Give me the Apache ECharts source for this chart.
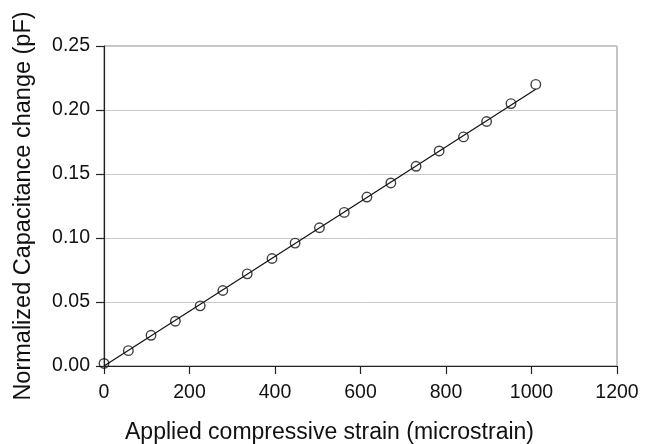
<!DOCTYPE html>
<html>
<head>
<meta charset="utf-8">
<script src="https://cdn.jsdelivr.net/npm/echarts@6/dist/echarts.min.js"></script>
<style>
html,body{margin:0;padding:0;background:#fff;}
#chart{width:653px;height:444px;}
</style>
</head>
<body>
<div id="chart"></div>
<script>
// Measured points: applied strain (microstrain) and normalized capacitance change (pF)
const strain = [0, 57, 110, 167, 225, 278, 335, 393, 447, 504, 562, 615, 671, 730, 784, 841, 895, 952, 1010];
const capChange = [0.002, 0.012, 0.024, 0.035, 0.047, 0.059, 0.072, 0.084, 0.096, 0.108, 0.120, 0.132, 0.143, 0.156, 0.168, 0.179, 0.191, 0.205, 0.220];
// Linear fit line end points
const fitX = [0, 1010];
const fitY = [0, 0.2162];
const xTicks = [0, 200, 400, 600, 800, 1000, 1200];
const yTicks = [0, 0.05, 0.10, 0.15, 0.20, 0.25];

const font = 'Liberation Sans, Arial, sans-serif';
const chart = echarts.init(document.getElementById('chart'), null, {renderer: 'canvas'});
chart.setOption({
  animation: false,
  backgroundColor: '#ffffff',
  grid: {left: 104, right: 36, top: 46, bottom: 78, outerBoundsMode: 'none', containLabel: false,
         show: true, borderColor: '#8a8a8a', borderWidth: 1, backgroundColor: '#ffffff'},
  xAxis: {
    type: 'value', min: xTicks[0], max: xTicks[xTicks.length - 1], interval: 200,
    name: 'Applied compressive strain (microstrain)', nameLocation: 'middle', nameGap: 55,
    nameTextStyle: {fontFamily: font, fontSize: 23, color: '#111', padding: [0, 62, 0, 0]},
    axisLine: {show: true, onZero: false, lineStyle: {color: '#222', width: 1.2}},
    axisTick: {show: true, inside: false, length: 8, lineStyle: {color: '#222', width: 1.2}},
    axisLabel: {fontFamily: font, fontSize: 19.5, color: '#111', margin: 17, formatter: v => String(v)},
    splitLine: {show: false}
  },
  yAxis: {
    type: 'value', min: yTicks[0], max: yTicks[yTicks.length - 1], interval: 0.05,
    name: 'Normalized Capacitance change (pF)', nameLocation: 'middle', nameGap: 68,
    nameTextStyle: {fontFamily: font, fontSize: 23.5, color: '#111'},
    axisLine: {show: true, onZero: false, lineStyle: {color: '#222', width: 1.2}},
    axisTick: {show: true, inside: false, length: 8, lineStyle: {color: '#222', width: 1.2}},
    axisLabel: {fontFamily: font, fontSize: 19.5, color: '#111', margin: 14, formatter: v => v.toFixed(2)},
    splitLine: {show: true, lineStyle: {color: '#c8c8c8', width: 1}}
  },
  series: [
    {
      type: 'line', data: fitX.map((x, i) => [x, fitY[i]]), symbol: 'none',
      lineStyle: {color: '#111', width: 1.2}, z: 2
    },
    {
      type: 'scatter', data: strain.map((x, i) => [x, capChange[i]]), symbol: 'circle', symbolSize: 9.5,
      itemStyle: {color: 'rgba(0,0,0,0)', borderColor: '#111', borderWidth: 1.4}, z: 3
    }
  ]
});
</script>
</body>
</html>
